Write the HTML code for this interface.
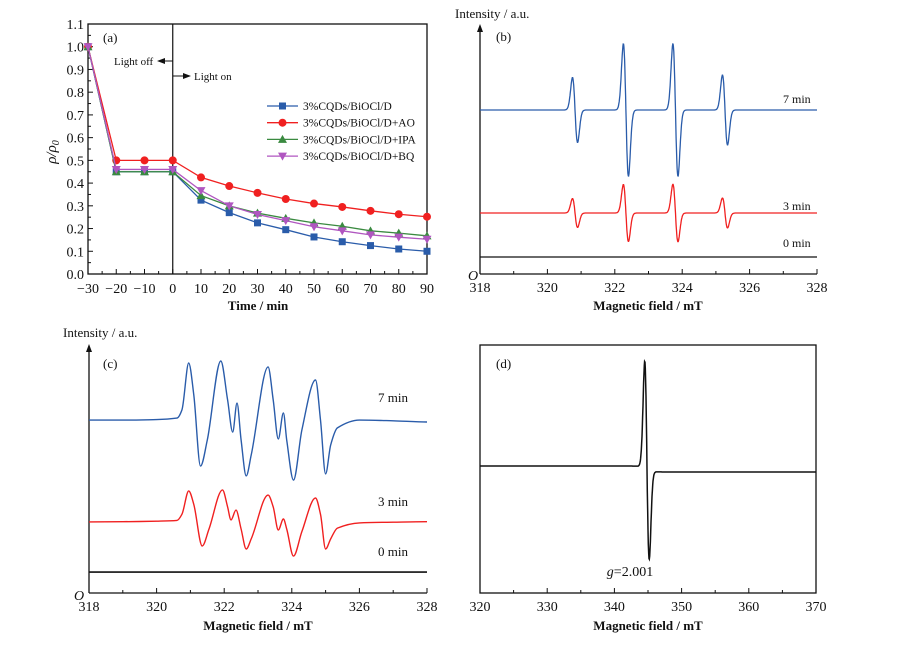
<!DOCTYPE html>
<html><head><meta charset="utf-8">
<style>
html,body{margin:0;padding:0;background:#fff;}
svg{display:block;font-family:"Liberation Serif",serif;}
</style></head>
<body>
<svg id="fig" width="897" height="648" viewBox="0 0 897 648" xmlns="http://www.w3.org/2000/svg"></svg>
<script>
// ---------- Panel (a) data ----------
const timeCats = [-30,-20,-10,0,10,20,30,40,50,60,70,80,90];
const seriesD   = [1,0.45,0.45,0.45,0.325,0.27,0.225,0.195,0.163,0.142,0.125,0.11,0.1];
const seriesAO  = [1,0.5,0.5,0.5,0.425,0.387,0.357,0.33,0.31,0.295,0.278,0.263,0.252];
const seriesIPA = [1,0.45,0.45,0.45,0.345,0.3,0.268,0.245,0.225,0.21,0.19,0.18,0.168];
const seriesBQ  = [1,0.46,0.46,0.46,0.367,0.3,0.262,0.235,0.208,0.19,0.172,0.162,0.153];
const aYTicks = [0,0.1,0.2,0.3,0.4,0.5,0.6,0.7,0.8,0.9,1.0,1.1];
const aXTicks = [-30,-20,-10,0,10,20,30,40,50,60,70,80,90];
const legendNames = ["3%CQDs/BiOCl/D","3%CQDs/BiOCl/D+AO","3%CQDs/BiOCl/D+IPA","3%CQDs/BiOCl/D+BQ"];

// ---------- Panel (b) data: line centers & amplitudes ----------
const bCenters = [320.82,322.33,323.8,325.27];
const bAmp7 = [13,26.5,26.5,14];
const bAmp3 = [5.8,11.4,11.5,6];
const bBase = [65.6,24.4,6.8];
const bXTicks = [318,320,322,324,326,328];

// ---------- Panel (c) data: keypoints ----------
const c7Field = [318,319,320,320.6,320.75,320.95,321.1,321.3,321.5,321.9,322.1,322.25,322.38,322.5,322.65,322.8,323.3,323.45,323.6,323.75,323.85,324.05,324.3,324.7,324.85,325.0,325.15,325.35,326,327,328];
const c7Int   = [70.3,70.3,70.5,71.1,74.4,93.5,80.5,51.6,62.2,94.3,78.5,65.4,77.2,62.2,47.6,56.1,91.9,78.5,62.6,73.2,62.2,45.9,66.3,86.6,70.3,48.4,60.2,67.1,70.3,70.0,69.5];
const c3Field = [318,319,320,320.6,320.75,320.95,321.1,321.35,321.55,321.95,322.1,322.2,322.35,322.5,322.65,322.8,323.3,323.45,323.6,323.75,323.85,324.05,324.3,324.7,324.85,325.0,325.15,325.35,326,327,328];
const c3Int   = [28.9,29.0,29.2,29.5,32,41.5,36,19.1,26,41.9,35,29.7,33.7,26,17.9,22,39.8,35,25.6,30.1,26,15.0,25,38.6,32,17.9,22,26.4,28.5,28.8,29];
const c0Base = [8.5];
const cXTicks = [318,320,322,324,326,328];

// ---------- Panel (d) data ----------
const dCenter = [344.85];
const dAmpUp = [43];
const dAmpDown = [36];
const dBaseLeft = [51.2];
const dBaseRight = [48.8];
const dXTicks = [320,330,340,350,360,370];

const NS="http://www.w3.org/2000/svg";
const svg=document.getElementById('fig');
function mk(tag,attrs,parent){const e=document.createElementNS(NS,tag);for(const k in attrs)e.setAttribute(k,attrs[k]);(parent||svg).appendChild(e);return e;}
function txt(s,x,y,size,anchor,parent){const t=mk('text',{x:x,y:y,'font-size':size,'text-anchor':anchor||'start',fill:'#111'},parent);t.textContent=s;return t;}

// ================= Panel (a) =================
const ga=mk('g',{});


const aX=v=>88+(v+30)*(427-88)/120;
const aY=v=>274-v*(274-24)/1.1;
mk('rect',{x:88,y:24,width:339,height:250,fill:'none',stroke:'#111','stroke-width':1.3},ga);
aYTicks.forEach(v=>{const y=aY(v);mk('line',{x1:88,y1:y,x2:93,y2:y,stroke:'#111'},ga);
 const t=txt(v.toFixed(1),84,y+5,14,'end',ga);
 if(v<1.1){const ym=aY(v+0.05);mk('line',{x1:88,y1:ym,x2:91,y2:ym,stroke:'#111'},ga);}});
aXTicks.forEach(v=>{const x=aX(v);mk('line',{x1:x,y1:274,x2:x,y2:269,stroke:'#111'},ga);
 const t=txt(v<0?'\u2212'+(-v):String(v),x,293,14,'middle',ga);
 if(v<90){const xm=aX(v+5);mk('line',{x1:xm,y1:274,x2:xm,y2:271,stroke:'#111'},ga);}});
const xt=txt('Time / min',258,310,13,'middle',ga);xt.setAttribute('font-weight','bold');

const yt=mk('text',{x:0,y:0,'font-size':15,'font-style':'italic','text-anchor':'middle',transform:'translate(56,152) rotate(-90)',fill:'#111'},ga);
yt.innerHTML='ρ/ρ<tspan font-size="10" dy="3">0</tspan>';

const pl=txt('(a)',103,42,13,'start',ga);
mk('line',{x1:aX(0),y1:24,x2:aX(0),y2:274,stroke:'#111','stroke-width':1.2},ga);
const lo=txt('Light off',114,65,11,'start',ga);
mk('line',{x1:aX(0),y1:61,x2:162,y2:61,stroke:'#111'},ga);mk('path',{d:'M157,61 L165,58 L165,64Z',fill:'#111'},ga);
const ln=txt('Light on',194,80,11,'start',ga);
mk('line',{x1:aX(0),y1:76,x2:185,y2:76,stroke:'#111'},ga);mk('path',{d:'M191,76 L183,73 L183,79Z',fill:'#111'},ga);
const aSeries=[seriesD,seriesAO,seriesIPA,seriesBQ];
const aColors=['#2a5caa','#f02020','#3a8a40','#b056c0'];
const aNames=['series-d','series-ao','series-ipa','series-bq'];
function marker(k,x,y,c,g){
 if(k===0)return mk('rect',{x:x-3.5,y:y-3.5,width:7,height:7,fill:c},g);
 if(k===1)return mk('circle',{cx:x,cy:y,r:4,fill:c},g);
 if(k===2)return mk('path',{d:`M${x},${y-4.5} L${x+4.5},${y+3.5} L${x-4.5},${y+3.5}Z`,fill:c},g);
 return mk('path',{d:`M${x},${y+4.5} L${x+4.5},${y-3.5} L${x-4.5},${y-3.5}Z`,fill:c},g);}
aSeries.forEach((s,k)=>{
 const g=mk('g',{},ga);
 mk('polyline',{points:s.map((v,i)=>aX(timeCats[i])+','+aY(v)).join(' '),fill:'none',stroke:aColors[k],'stroke-width':1.3},g);
 s.forEach((v,i)=>{const m=marker(k,aX(timeCats[i]),aY(v),aColors[k],g);});
 const ly=106+k*16.7;
 const le=mk('g',{},ga);
 mk('line',{x1:267,y1:ly,x2:298,y2:ly,stroke:aColors[k],'stroke-width':1.3},le);marker(k,282.5,ly,aColors[k],le);
 txt(legendNames[k],303,ly+4,11.5,'start',le);
});

// ================= helpers for spectra =================
function dg(x,c,w){const u=(x-c)/w;return -u*Math.exp(0.5-u*u/2);}
function axesArrow(g,x0,x1,yb,ytop,ticks,xf,minorStep){
 mk('line',{x1:x0,y1:yb,x2:x1,y2:yb,stroke:'#111','stroke-width':1.3},g);
 mk('line',{x1:x0,y1:yb,x2:x0,y2:ytop+6,stroke:'#111','stroke-width':1.3},g);
 mk('path',{d:`M${x0},${ytop} L${x0-3},${ytop+8} L${x0+3},${ytop+8}Z`,fill:'#111'},g);
 ticks.forEach((v,i)=>{const x=xf(v);mk('line',{x1:x,y1:yb,x2:x,y2:yb-5,stroke:'#111'},g);
  const t=txt(String(v),x,yb+18,14,'middle',g);
  if(i<ticks.length-1){const xm=xf(v+minorStep);mk('line',{x1:xm,y1:yb,x2:xm,y2:yb-3,stroke:'#111'},g);}});
}
function pathFrom(xs,ys){return 'M'+xs.map((x,i)=>x.toFixed(1)+','+ys[i].toFixed(1)).join(' L');}
// monotone (Fritsch-Carlson style) cubic in function form
function smoothPath(px,py){
 const n=px.length,m=[];
 for(let i=0;i<n;i++){
  if(i===0||i===n-1){m.push(0);continue;}
  const s0=(py[i]-py[i-1])/(px[i]-px[i-1]),s1=(py[i+1]-py[i])/(px[i+1]-px[i]);
  m.push(s0*s1<=0?0:2*s0*s1/(s0+s1));
 }
 let d=`M${px[0].toFixed(1)},${py[0].toFixed(1)}`;
 for(let i=0;i<n-1;i++){const h=(px[i+1]-px[i])/3;
  d+=` C${(px[i]+h).toFixed(1)},${(py[i]+m[i]*h).toFixed(1)} ${(px[i+1]-h).toFixed(1)},${(py[i+1]-m[i+1]*h).toFixed(1)} ${px[i+1].toFixed(1)},${py[i+1].toFixed(1)}`;}
 return d;}

// ================= Panel (b) =================
const gb=mk('g',{});
const bX=v=>480+(v-318)*(817-480)/10;
const bY=v=>274-v*2.5;
axesArrow(gb,480,817,274,24,bXTicks,bX,1);
let t=txt('Intensity / a.u.',455,18,13,'start',gb);
t=txt('(b)',496,41,13,'start',gb);
t=txt('Magnetic field / mT',648,310,13,'middle',gb);t.setAttribute('font-weight','bold');
t=txt('O',473,280,14,'middle',gb);t.setAttribute('font-style','italic');
function bSpec(amps,base){const xs=[],ys=[];for(let f=318;f<=328.0001;f+=0.01){let v=base;amps.forEach((a,i)=>v+=a*dg(f,bCenters[i],0.075));xs.push(bX(f));ys.push(bY(v));}return pathFrom(xs,ys);}
[[bAmp7,bBase[0],'#2a5caa','spectrum-7min'],[bAmp3,bBase[1],'#f02020','spectrum-3min'],[[0,0,0,0],bBase[2],'#111','spectrum-0min']].forEach(([a,b,c,n])=>{
 const p=mk('path',{d:bSpec(a,b),fill:'none',stroke:c,'stroke-width':1.3},gb);});
[['7 min',103],['3 min',210],['0 min',247]].forEach(([s,y])=>{const e=txt(s,783,y,12,'start',gb);});

// ================= Panel (c) =================
const gc=mk('g',{});
const cX=v=>89+(v-318)*(427-89)/10;
const cY=v=>593-v*2.46;
axesArrow(gc,89,427,593,344,cXTicks,cX,1);
t=txt('Intensity / a.u.',63,337,13,'start',gc);
t=txt('(c)',103,368,13,'start',gc);
t=txt('Magnetic field / mT',258,630,13,'middle',gc);t.setAttribute('font-weight','bold');
t=txt('O',79,600,14,'middle',gc);t.setAttribute('font-style','italic');
let p=mk('path',{d:smoothPath(c7Field.map(cX),c7Int.map(cY)),fill:'none',stroke:'#2a5caa','stroke-width':1.4},gc);
p=mk('path',{d:smoothPath(c3Field.map(cX),c3Int.map(cY)),fill:'none',stroke:'#f02020','stroke-width':1.4},gc);
p=mk('line',{x1:cX(318),y1:cY(c0Base[0]),x2:cX(328),y2:cY(c0Base[0]),stroke:'#111','stroke-width':1.6},gc);
[['7 min',402],['3 min',506],['0 min',556]].forEach(([s,y])=>{const e=txt(s,378,y,13,'start',gc);});

// ================= Panel (d) =================
const gd=mk('g',{});
const dX=v=>480+(v-320)*(816-480)/50;
const dY=v=>593-v*2.48;
mk('rect',{x:480,y:345,width:336,height:248,fill:'none',stroke:'#111','stroke-width':1.3},gd);
dXTicks.forEach((v,i)=>{const x=dX(v);mk('line',{x1:x,y1:593,x2:x,y2:588,stroke:'#111'},gd);
 const e=txt(String(v),x,611,14,'middle',gd);
 if(i<dXTicks.length-1){const xm=dX(v+5);mk('line',{x1:xm,y1:593,x2:xm,y2:590,stroke:'#111'},gd);}});
t=txt('Magnetic field / mT',648,630,13,'middle',gd);t.setAttribute('font-weight','bold');
t=txt('(d)',496,368,13,'start',gd);
t=mk('text',{x:630,y:576,'font-size':14,'text-anchor':'middle',fill:'#111'},gd);t.innerHTML='<tspan font-style="italic">g</tspan>=2.001';

(function(){const xs=[],ys=[];for(let f=320;f<=370.0001;f+=0.05){const c=dCenter[0],w=0.33;const g=dg(f,c,w);
 const amp=g>0?dAmpUp[0]:dAmpDown[0];const s=1/(1+Math.exp(-(f-c)/0.4));const base=dBaseLeft[0]*(1-s)+dBaseRight[0]*s;
 xs.push(dX(f));ys.push(dY(base+amp*g));}
 const pp=mk('path',{d:pathFrom(xs,ys),fill:'none',stroke:'#111','stroke-width':1.5},gd);})();
</script>
</body></html>
